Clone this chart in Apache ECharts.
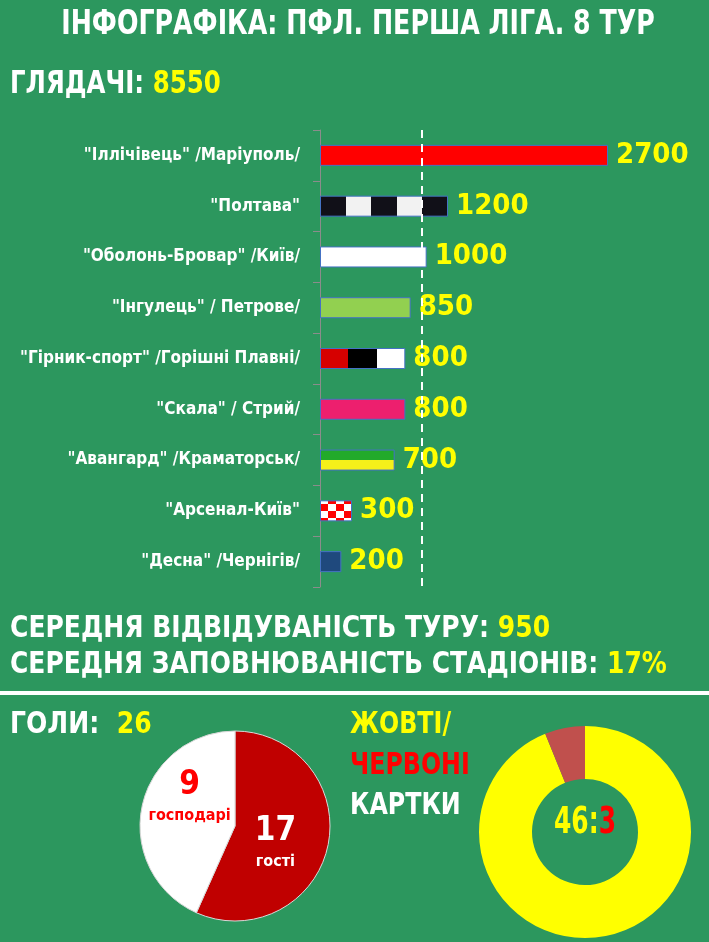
<!DOCTYPE html>
<html><head><meta charset="utf-8">
<script src="https://cdn.jsdelivr.net/npm/echarts@6/dist/echarts.min.js"></script>
<style>html,body{margin:0;padding:0;background:#2c975e}#c{width:709px;height:942px}</style>
</head><body><div id="c"></div>
<script>
// ---- data ----
const titleText = 'ІНФОГРАФІКА: ПФЛ. ПЕРША ЛІГА. 8 ТУР';
const spectatorsLabel = 'ГЛЯДАЧІ:';
const spectatorsTotal = 8550;
const clubs = [
  '"Іллічівець" /Маріуполь/',
  '"Полтава"',
  '"Оболонь-Бровар" /Київ/',
  '"Інгулець" / Петрове/',
  '"Гірник-спорт" /Горішні Плавні/',
  '"Скала" / Стрий/',
  '"Авангард" /Краматорськ/',
  '"Арсенал-Київ"',
  '"Десна" /Чернігів/'
];
const attendance = [2700, 1200, 1000, 850, 800, 800, 700, 300, 200];
const averageAttendanceLabel = 'СЕРЕДНЯ ВІДВІДУВАНІСТЬ ТУРУ:';
const averageAttendance = 950;
const stadiumFillLabel = 'СЕРЕДНЯ ЗАПОВНЮВАНІСТЬ СТАДІОНІВ:';
const stadiumFill = '17%';
const goalsLabel = 'ГОЛИ:';
const goalsNames = ['гості', 'господарі'];
const goalsValues = [17, 9];          // printed numbers
const goalsSlices = [17, 13];         // slice sizes as drawn in the picture (red ends at ~204°)
const cardsNames = ['ЖОВТІ/', 'ЧЕРВОНІ', 'КАРТКИ'];
const cardsValues = [46, 3];

// ---- styles ----
const BG = '#2c975e';
const YEL = '#ffff00';
const HF = '"DejaVu Sans Condensed", "DejaVu Sans", sans-serif';
const G = echarts.graphic;
function hard(dir, cols) {
  const stops = [];
  const n = cols.length;
  cols.forEach((c, i) => { stops.push({offset: i / n, color: c}); stops.push({offset: (i + 1) / n, color: c}); });
  return dir === 'h' ? new G.LinearGradient(0, 0, 1, 0, stops) : new G.LinearGradient(0, 0, 0, 1, stops);
}
function checker() {
  const cv = document.createElement('canvas');
  cv.width = 16; cv.height = 14;
  const ctx = cv.getContext('2d');
  ctx.fillStyle = '#ffffff'; ctx.fillRect(0, 0, 16, 14);
  ctx.fillStyle = '#ff0000'; ctx.fillRect(0, 0, 8, 7); ctx.fillRect(8, 7, 8, 7);
  return {image: cv, repeat: 'repeat'};
}
const fills = [
  '#ff0000',
  hard('h', ['#111018', '#f2f2f2', '#111018', '#f2f2f2', '#111018']),
  '#ffffff',
  '#92d050',
  hard('h', ['#d60000', '#000000', '#ffffff']),
  '#ed1f6e',
  hard('v', ['#22aa2a', '#f5f01a']),
  checker(),
  '#1f497d'
];
function rt(s, color, size) { return {fill: color, fontFamily: HF, fontWeight: 'bold', fontSize: size}; }
function txt(x, y, k, text, rich, align) {
  return {type: 'text', x: x, y: y, scaleX: k, style: {text: text, rich: rich, align: align || 'left', verticalAlign: 'middle'}};
}

const chart = echarts.init(document.getElementById('c'), null, {renderer: 'canvas'});
chart.setOption({
  backgroundColor: BG,
  animation: false,
  grid: {left: 320, top: 130, width: 320, height: 457},
  xAxis: {type: 'value', min: 0, max: 3000, show: false},
  yAxis: {
    type: 'category', data: clubs, inverse: true,
    axisLine: {show: true, lineStyle: {color: '#8c8c8c', width: 1}},
    axisTick: {show: true, length: 7, lineStyle: {color: '#8c8c8c'}},
    axisLabel: {color: '#ffffff', fontFamily: HF, fontWeight: 'bold', fontSize: 17, margin: 20}
  },
  series: [
    {
      type: 'bar', barWidth: 21,
      data: attendance.map((v, i) => ({value: v, itemStyle: {color: fills[i]}})),
      itemStyle: {borderColor: '#4472c4', borderWidth: 1},
      label: {show: true, position: 'right', distance: 8, color: YEL, fontFamily: HF, fontWeight: 'bold', fontSize: 29},
      markLine: {
        silent: true, symbol: 'none', label: {show: false},
        lineStyle: {color: '#ffffff', type: [8, 6], width: 2},
        data: [{xAxis: averageAttendance}]
      }
    },
    {
      type: 'pie', center: [235, 826], radius: 95, startAngle: 90, clockwise: true,
      itemStyle: {borderColor: '#d8d8d8', borderWidth: 1},
      data: [
        {value: goalsSlices[0], name: goalsNames[0], itemStyle: {color: '#c00000'}, label: {color: '#ffffff'}},
        {value: goalsSlices[1], name: goalsNames[1], itemStyle: {color: '#ffffff'}, label: {color: '#ff0000'}}
      ],
      label: {
        show: true, position: 'inside',
        formatter: p => '{v|' + goalsValues[p.dataIndex] + '}\n{n|' + p.name + '}',
        rich: {
          v: {fontFamily: HF, fontWeight: 'bold', fontSize: 33, lineHeight: 36},
          n: {fontFamily: HF, fontWeight: 'bold', fontSize: 16, lineHeight: 24}
        }
      },
      labelLayout: p => (p.dataIndex === 0 ? {dx: -9, dy: 7} : {dx: 4, dy: -18}),
      labelLine: {show: false}
    },
    {
      type: 'pie', center: [585, 832], radius: [53, 106], startAngle: 90, clockwise: true,
      label: {show: false}, labelLine: {show: false},
      data: [
        {value: cardsValues[0], name: 'yellow', itemStyle: {color: '#ffff00'}},
        {value: cardsValues[1], name: 'red', itemStyle: {color: '#c0504d'}}
      ]
    }
  ],
  graphic: [
    txt(358, 25, 0.852, '{w|' + titleText + '}', {w: rt(0, '#ffffff', 33)}, 'center'),
    txt(10, 85, 0.85, '{w|' + spectatorsLabel + ' }{y|' + spectatorsTotal + '}', {w: rt(0, '#ffffff', 32), y: rt(0, YEL, 32)}),
    txt(10, 629, 0.928, '{w|' + averageAttendanceLabel + ' }{y|' + averageAttendance + '}', {w: rt(0, '#ffffff', 30), y: rt(0, YEL, 30)}),
    txt(10, 665, 0.925, '{w|' + stadiumFillLabel + ' }{y|' + stadiumFill + '}', {w: rt(0, '#ffffff', 30), y: rt(0, YEL, 30)}),
    {type: 'rect', shape: {x: 0, y: 691, width: 709, height: 4}, style: {fill: '#ffffff'}},
    txt(10, 725, 0.93, '{w|' + goalsLabel + '  }{y|' + (goalsValues[0] + goalsValues[1]) + '}', {w: rt(0, '#ffffff', 30), y: rt(0, YEL, 30)}),
    txt(350, 725, 0.88, '{w|' + cardsNames[0] + '}', {w: rt(0, YEL, 30)}),
    txt(350, 766, 0.88, '{w|' + cardsNames[1] + '}', {w: rt(0, '#ff0000', 30)}),
    txt(350, 806, 0.88, '{w|' + cardsNames[2] + '}', {w: rt(0, '#ffffff', 30)}),
    txt(585, 823, 0.75, '{y|' + cardsValues[0] + ':}{r|' + cardsValues[1] + '}', {y: rt(0, YEL, 37), r: rt(0, '#ff0000', 37)}, 'center')
  ]
});
</script></body></html>
